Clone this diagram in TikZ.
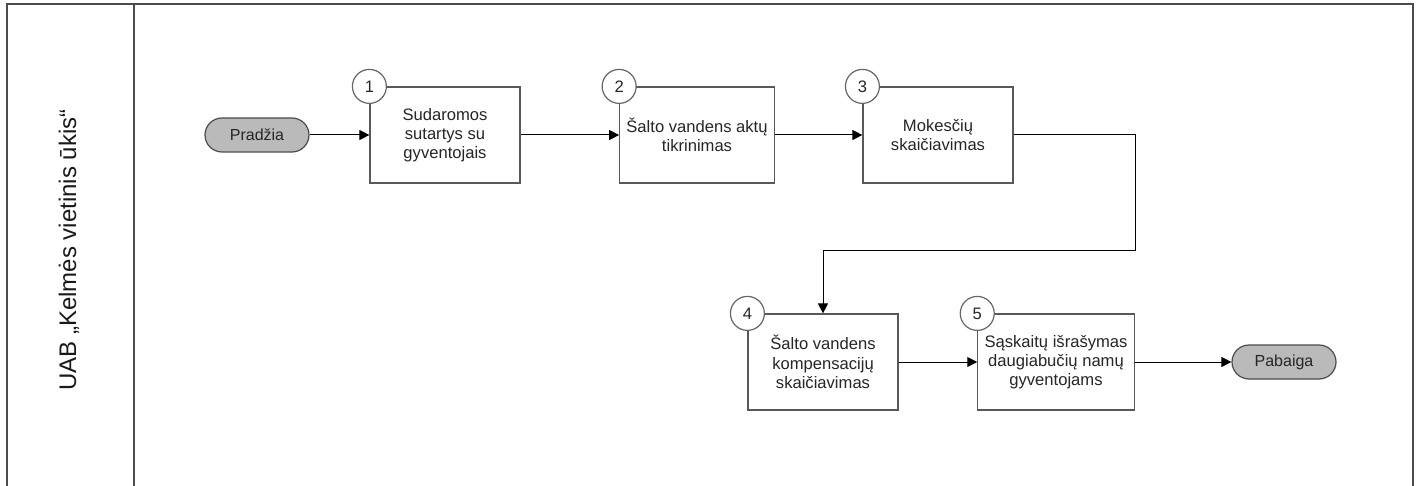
\documentclass[tikz,border=0pt]{standalone}
\usepackage{fontspec}
\setmainfont{Liberation Sans}
\usetikzlibrary{arrows.meta}

\begin{document}
\begin{tikzpicture}[x=0.5pt,y=-0.5pt,
    frame/.style={draw=black!70, line width=0.6pt},
    task/.style={draw=black!65, fill=white, line width=0.6pt, minimum width=75pt,
      minimum height=48pt, align=center, text=black!85,
      font=\fontsize{8.3}{9.6}\selectfont},
    term/.style={draw=black!70, fill=black!27, line width=0.6pt, rounded corners=8.5pt,
      minimum width=52pt, minimum height=17pt, text=black!85,
      font=\fontsize{8}{10}\selectfont},
    num/.style={circle, draw=black!60, fill=white, line width=0.6pt, minimum size=17pt,
      inner sep=0pt, text=black!85, font=\fontsize{8.3}{10}\selectfont},
    flow/.style={-{Triangle[length=5pt,width=5pt]}, line width=0.5pt}]
    \useasboundingbox (0,0) rectangle (1419,486);
    \draw[frame] (7,486) -- (7,4) -- (1413,4) -- (1413,486);
    \draw[frame] (134,4) -- (134,486);
    \node[rotate=90, text=black!90, font=\fontsize{12}{14}\selectfont] (lane) at (69,250)
      {UAB „Kelmės vietinis ūkis“};

    \node[term] (pradzia) at (257,135) {Pradžia};
    \node[task] (sutartys) at (445,135) {Sudaromos\\sutartys su\\gyventojais};
    \node[task] (aktai) at (697,135) {Šalto vandens aktų\\tikrinimas};
    \node[task] (mokesciai) at (938,135) {Mokesčių\\skaičiavimas};
    \node[task] (kompensacijos) at (823,362) {Šalto vandens\\kompensacijų\\skaičiavimas};
    \node[task] (saskaitos) at (1056,362) {Sąskaitų išrašymas\\daugiabučių namų\\gyventojams};
    \node[term] (pabaiga) at (1284,362) {Pabaiga};
    \coordinate (posukis) at (1135,251);

    \foreach \b/\n in {sutartys/1,aktai/2,mokesciai/3,kompensacijos/4,saskaitos/5}{
      \node[num] (nr\n) at (\b.north west) {\n};
    }

    \draw[flow] (pradzia) -- (sutartys);
    \draw[flow] (sutartys) -- (aktai);
    \draw[flow] (aktai) -- (mokesciai);
    \draw[flow] (mokesciai.east) -| (posukis) -| (kompensacijos.north);
    \draw[flow] (kompensacijos) -- (saskaitos);
    \draw[flow] (saskaitos) -- (pabaiga);
  \end{tikzpicture}
\end{document}
